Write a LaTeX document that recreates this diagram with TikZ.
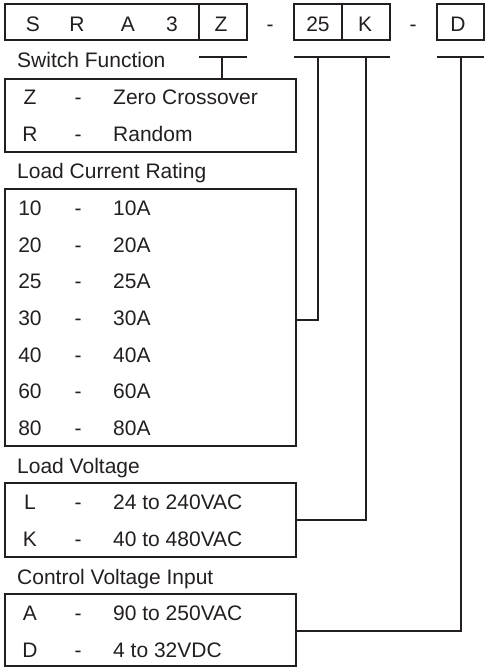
\documentclass[tikz,border=0pt]{standalone}
\usepackage{fontspec}
\setmainfont{Liberation Sans}
\definecolor{ink}{HTML}{231F20}
\begin{document}
\begin{tikzpicture}[x=1pt,y=-1pt,
  every node/.style={text=ink, font=\fontsize{21}{25}\selectfont},
  secbox/.style={draw=ink, line width=2.7pt, inner sep=0pt, outer sep=0pt, anchor=north west, minimum width=291pt},
  topbox/.style={draw=ink, line width=2pt, inner sep=0pt, outer sep=0pt, anchor=north west, minimum height=36pt},
  conn/.style={draw=ink, line width=2pt},
  ctxt/.style={anchor=base, inner sep=0pt},
  ltxt/.style={anchor=base west, inner sep=0pt}]
\useasboundingbox (0,0) rectangle (485,667);

% top code boxes
\node[topbox, minimum width=194pt] (b1) at (5,4) {};
\node[topbox, minimum width=48pt] (bz) at (199,4) {};
\node[topbox, minimum width=48pt] (b25) at (294,4) {};
\node[topbox, minimum width=48pt] (bk) at (342,4) {};
\node[topbox, minimum width=47pt] (bd) at (437,4) {};

\node[ctxt] (tS) at (33,31) {S};
\node[ctxt] (tR) at (77,31) {R};
\node[ctxt] (tA) at (128,31) {A};
\node[ctxt] (t3) at (172,31) {3};
\node[ctxt] (tZ) at (221,31) {Z};
\node[ctxt] (td1) at (270,31) {-};
\node[ctxt] (t25) at (318,31) {25};
\node[ctxt] (tK) at (365,31) {K};
\node[ctxt] (td2) at (413,31) {-};
\node[ctxt] (tD) at (458,31) {D};

% section boxes
\node[secbox, minimum height=73pt] (sw) at (5,79) {};
\node[secbox, minimum height=257pt] (lc) at (5,189) {};
\node[secbox, minimum height=74pt] (lv) at (5,483) {};
\node[secbox, minimum height=72pt] (cv) at (5,594) {};

% section titles
\node[ltxt] (hsw) at (17,67) {Switch Function};
\node[ltxt] (hlc) at (17,178) {Load Current Rating};
\node[ltxt] (hlv) at (17,473) {Load Voltage};
\node[ltxt] (hcv) at (17,584) {Control Voltage Input};

% rows
\foreach \c/\d/\y [count=\i] in {Z/Zero Crossover/104.5, R/Random/141}{
  \node[ctxt] (swc\i) at (30,\y) {\c};
  \node[ctxt] (swm\i) at (78,\y) {-};
  \node[ltxt] (swd\i) at (113,\y) {\d};
}
\foreach \c [count=\i] in {10,20,25,30,40,60,80}{
  \node[ctxt] (lcc\i) at (30,{215.4+36.7*(\i-1)}) {\c};
  \node[ctxt] (lcm\i) at (78,{215.4+36.7*(\i-1)}) {-};
  \node[ltxt] (lcd\i) at (113,{215.4+36.7*(\i-1)}) {\c A};
}
\foreach \c/\d/\y [count=\i] in {L/24 to 240VAC/509, K/40 to 480VAC/546}{
  \node[ctxt] (lvc\i) at (30,\y) {\c};
  \node[ctxt] (lvm\i) at (78,\y) {-};
  \node[ltxt] (lvd\i) at (113,\y) {\d};
}
\foreach \c/\d/\y [count=\i] in {A/90 to 250VAC/620, D/4 to 32VDC/657}{
  \node[ctxt] (cvc\i) at (30,\y) {\c};
  \node[ctxt] (cvm\i) at (78,\y) {-};
  \node[ltxt] (cvd\i) at (113,\y) {\d};
}

% connectors
\coordinate (zm) at (222,57);
\coordinate (m25) at (318,57);
\coordinate (mk) at (366,57);
\coordinate (md) at (461,57);
\draw[conn] (bz.west |- zm) -- (bz.east |- zm);
\draw[conn] (b25.west |- m25) -- (b25.east |- m25);
\draw[conn] (bk.west |- mk) -- (bk.east |- mk);
\draw[conn] (bd.west |- md) -- (bd.east |- md);

\draw[conn] (zm) -- (zm |- sw.north);
\coordinate (j25) at (318,320);
\coordinate (jk) at (366,520);
\coordinate (jd) at (461,631);
\draw[conn] (m25) -- (j25) -- (j25 -| lc.east);
\draw[conn] (mk) -- (jk) -- (jk -| lv.east);
\draw[conn] (md) -- (jd) -- (jd -| cv.east);
\end{tikzpicture}
\end{document}
